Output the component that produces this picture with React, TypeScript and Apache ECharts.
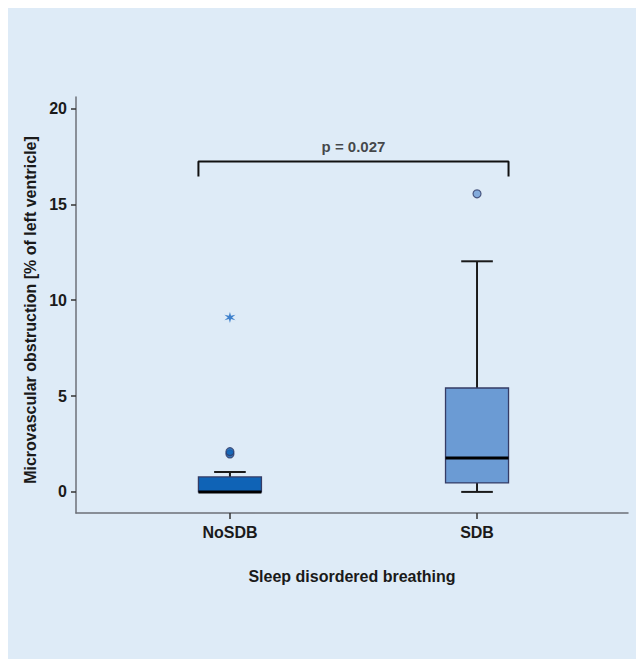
import React, { useEffect, useRef } from "react";
import * as echarts from "echarts";

const categories = ["NoSDB", "SDB"];
const catPos = [1, 2];
const boxMin = [0, 0];
const boxQ1 = [0, 0.47];
const boxMedian = [0, 1.77];
const boxQ3 = [0.78, 5.42];
const boxMax = [1.04, 12.03];
const boxColors = ["#0f63b6", "#6b9bd4"];

const outlierCat = [0, 0, 1];
const outlierVal = [1.98, 2.1, 15.55];
const extremeCat = [0];
const extremeVal = [9.1];

const yTicks = [0, 5, 10, 15, 20];
const pLabel = "p = 0.027";
const bracketTop = 17.23;
const bracketEnd = 16.45;

const yTitle = "Microvascular obstruction [% of left ventricle]";
const xTitle = "Sleep disordered breathing";

const BOX_HALF = 0.1275;
const CAP_HALF = 0.064;

function starPath(): string {
  const pts: string[] = [];
  for (let i = 0; i < 12; i++) {
    const r = i % 2 === 0 ? 10 : 3.4;
    const a = (Math.PI / 6) * i - Math.PI / 2;
    pts.push(`${(10 + r * Math.cos(a)).toFixed(2)} ${(10 + r * Math.sin(a)).toFixed(2)}`);
  }
  return "path://M" + pts.join(" L") + " Z";
}

export default function App() {
  const ref = useRef<HTMLDivElement>(null);
  useEffect(() => {
    if (!ref.current) return;
    const chart = echarts.init(ref.current, null, { renderer: "svg" });
    const font = "'Liberation Sans', Arial, sans-serif";
    const boxData = categories.map((_, i) => [
      catPos[i],
      boxMin[i],
      boxQ1[i],
      boxMedian[i],
      boxQ3[i],
      boxMax[i],
      i,
    ]);
    const option: any = {
      animation: false,
      backgroundColor: "#deebf7",
      grid: { left: 68, right: 16, top: 89, bottom: 146 },
      xAxis: {
        type: "value",
        min: 0.377,
        max: 2.611,
        splitLine: { show: false },
        axisLine: { show: true, onZero: false, lineStyle: { color: "#6c7078", width: 1.5 } },
        axisTick: {
          show: true,
          customValues: catPos,
          length: 6,
          lineStyle: { color: "#333", width: 1.5 },
        },
        axisLabel: {
          customValues: catPos,
          formatter: (v: number) => categories[catPos.indexOf(v)] ?? "",
          fontFamily: font,
          fontWeight: "bold",
          fontSize: 16,
          color: "#1a1a1a",
          margin: 11,
        },
        name: xTitle,
        nameLocation: "middle",
        nameGap: 55,
        nameTextStyle: { fontFamily: font, fontWeight: "bold", fontSize: 16, color: "#1a1a1a" },
      },
      yAxis: {
        type: "value",
        min: -1.1,
        max: 20.6,
        splitLine: { show: false },
        axisLine: { show: true, onZero: false, lineStyle: { color: "#6c7078", width: 1.5 } },
        axisTick: {
          show: true,
          customValues: yTicks,
          length: 5,
          lineStyle: { color: "#333", width: 1.5 },
        },
        axisLabel: {
          customValues: yTicks,
          fontFamily: font,
          fontWeight: "bold",
          fontSize: 16,
          color: "#1a1a1a",
          margin: 9,
        },
        name: yTitle,
        nameLocation: "middle",
        nameRotate: 90,
        nameGap: 27,
        nameTextStyle: {
          fontFamily: font,
          fontWeight: "bold",
          fontSize: 16,
          color: "#1a1a1a",
          padding: [0, 10, 0, 0],
        },
      },
      series: [
        {
          type: "custom",
          data: boxData,
          renderItem: (params: any, api: any) => {
            const x = api.value(0);
            const mn = api.value(1);
            const q1 = api.value(2);
            const md = api.value(3);
            const q3 = api.value(4);
            const mx = api.value(5);
            const idx = api.value(6);
            const pMin = api.coord([x, mn]);
            const pQ1 = api.coord([x, q1]);
            const pMd = api.coord([x, md]);
            const pQ3 = api.coord([x, q3]);
            const pMx = api.coord([x, mx]);
            const hw = api.size([BOX_HALF, 0])[0];
            const cw = api.size([CAP_HALF, 0])[0];
            const cx = pMd[0];
            const wStyle = { stroke: "#1a1a1a", lineWidth: 2 };
            return {
              type: "group",
              children: [
                { type: "line", shape: { x1: cx, y1: pMx[1], x2: cx, y2: pQ3[1] }, style: wStyle },
                { type: "line", shape: { x1: cx, y1: pQ1[1], x2: cx, y2: pMin[1] }, style: wStyle },
                { type: "line", shape: { x1: cx - cw, y1: pMx[1], x2: cx + cw, y2: pMx[1] }, style: wStyle },
                { type: "line", shape: { x1: cx - cw, y1: pMin[1], x2: cx + cw, y2: pMin[1] }, style: wStyle },
                {
                  type: "rect",
                  shape: { x: cx - hw, y: pQ3[1], width: hw * 2, height: pQ1[1] - pQ3[1] },
                  style: { fill: boxColors[idx], stroke: "#353c66", lineWidth: 1.3 },
                },
                {
                  type: "line",
                  shape: { x1: cx - hw, y1: pMd[1], x2: cx + hw, y2: pMd[1] },
                  style: { stroke: "#000", lineWidth: 3 },
                },
              ],
            };
          },
          z: 2,
        },
        {
          type: "scatter",
          data: outlierVal.map((v, i) => ({
            value: [catPos[outlierCat[i]], v],
            itemStyle: { color: boxColors[outlierCat[i]], borderColor: "#2f3a66", borderWidth: 1.2 },
          })),
          symbol: "circle",
          symbolSize: 8,
          z: 3,
        },
        {
          type: "scatter",
          data: extremeVal.map((v, i) => [catPos[extremeCat[i]], v]),
          symbol: starPath(),
          symbolSize: 11,
          itemStyle: { color: "#1565c0" },
          z: 3,
        },
        {
          type: "line",
          data: [
            [catPos[0] - BOX_HALF, bracketEnd],
            [catPos[0] - BOX_HALF, bracketTop],
            [catPos[1] + BOX_HALF, bracketTop],
            [catPos[1] + BOX_HALF, bracketEnd],
          ],
          showSymbol: false,
          symbol: "none",
          lineStyle: { color: "#111", width: 2 },
          z: 3,
        },
        {
          type: "scatter",
          data: [[(catPos[0] + catPos[1]) / 2, bracketTop]],
          symbolSize: 0,
          label: {
            show: true,
            position: "top",
            distance: 8,
            formatter: () => pLabel,
            fontFamily: font,
            fontWeight: "bold",
            fontSize: 15,
            color: "#1a1a1a",
          },
          z: 4,
        },
      ],
    };
    chart.setOption(option);
    return () => chart.dispose();
  }, []);
  return <div ref={ref} style={{ width: 636, height: 651 }} />;
}
